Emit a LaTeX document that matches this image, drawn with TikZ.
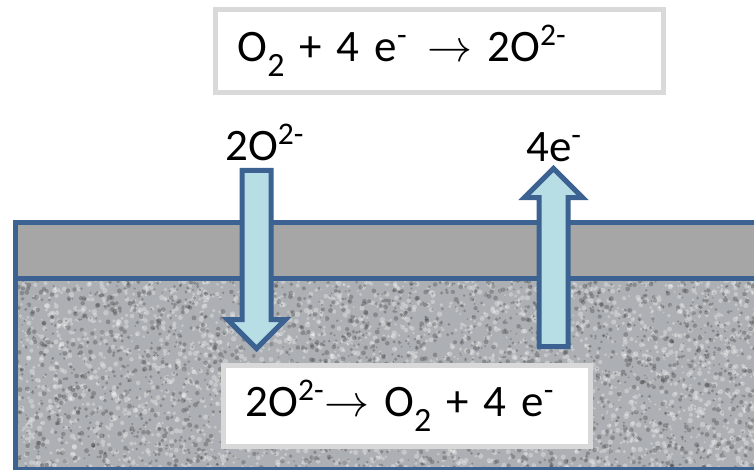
\RequirePackage{fix-cm}
\documentclass[tikz,border=0pt]{standalone}
\usepackage{fontspec}
\setmainfont{Carlito}
\usetikzlibrary{shapes.arrows}
\definecolor{cellblue}{RGB}{59,98,145}
\definecolor{ionfill}{RGB}{183,222,228}
\definecolor{boxgray}{RGB}{217,217,217}
\definecolor{layergray}{RGB}{166,166,166}
\definecolor{porousgray}{RGB}{172,175,179}
\newcommand{\lowidx}[1]{\raisebox{-0.33em}{\fontsize{34}{34}\selectfont #1}}
\begin{document}
\begin{tikzpicture}[x=1pt, y=-1pt,
  every node/.style={font=\fontsize{45}{54}\selectfont, inner sep=0pt},
  eqbox/.style={draw=boxgray, line width=5pt, fill=white, inner xsep=22pt,
                align=left, minimum height=#1},
  ionflow/.style={single arrow, draw=cellblue, fill=ionfill, line width=5pt,
                  minimum height=178pt, inner ysep=12pt, inner xsep=0pt,
                  single arrow head extend=14.5pt, anchor=tail},
  edge line/.style={cellblue, line width=5pt}
]
\useasboundingbox (0,0) rectangle (754,470);
\fill[layergray] (15.8,223) rectangle (760,278.7);
\begin{scope}
  \clip (15.8,278.7) rectangle (760,470);
  \fill[porousgray] (15.8,278.7) rectangle (760,470);
  \pgfmathsetseed{41}
  \foreach \i in {1,...,3000}
    \fill[white, opacity=0.3] ({15+745*rnd},{278+192*rnd}) circle ({1+1.8*rnd});
  \foreach \i in {1,...,2600}
    \fill[black!80, opacity=0.3] ({15+745*rnd},{278+192*rnd}) circle ({0.8+1.7*rnd});
\end{scope}
\draw[edge line] (760,223) -- (15.8,223) -- (15.8,469.5) -- (760,469.5);
\draw[edge line] (15.8,278.7) -- (760,278.7);
\node[ionflow, rotate=-90] (oxidein)     at (256.5,168) {};
\node[ionflow, rotate=90]  (electronout) at (553.5,349) {};
\node[anchor=base west] (oxidelabel)    at (225,161) {2O\textsuperscript{2-}};
\node[anchor=base west] (electronlabel) at (526,162) {4e\textsuperscript{-}};
\node[eqbox=83pt, text width=404pt] (reduction) at (439.5,51)
  {O\lowidx{2} + 4 e\textsuperscript{-}\hspace{0.45em}$\rightarrow$ 2O\textsuperscript{2-}};
\node[eqbox=81pt, text width=323pt] (oxidation) at (407,406)
  {2O\textsuperscript{2-}$\rightarrow$ O\lowidx{2} + 4 e\textsuperscript{-}};
\end{tikzpicture}
\end{document}
